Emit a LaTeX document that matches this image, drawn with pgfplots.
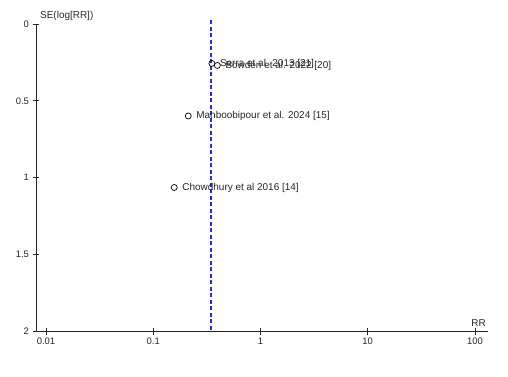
\documentclass[border=0pt]{standalone}
\usepackage{fontspec}
\setmainfont{Liberation Sans}
\usepackage{pgfplots}
\pgfplotsset{compat=1.18}
\definecolor{refblue}{RGB}{40,40,240}
\begin{document}
\begin{tikzpicture}
\path[use as bounding box] (0,0) rectangle (508bp,377bp);
\begin{axis}[
  at={(36bp,46bp)}, anchor=south west,
  scale only axis, width=452bp, height=307bp,
  xmode=log, xmin=0.008069, xmax=132.2,
  ymin=0, ymax=2, y dir=reverse,
  axis x line=bottom, axis y line=left,
  axis line style={-, black!85, line width=0.8pt},
  xtick={0.01,0.1,1,10,100}, xticklabels={0.01,0.1,1,10,100},
  ytick={0,0.5,1,1.5,2}, yticklabels={0,0.5,1,1.5,2},
  xminorticks=false,
  tick align=center, major tick length=7bp,
  tick style={black!85, line width=0.8pt},
  ticklabel style={font=\fontsize{9.5}{11}\selectfont, text=black!85},
  /pgf/number format/assume math mode=true,
  clip=false,
]
\addplot+[draw=refblue, line width=1.2pt, dash pattern=on 4bp off 2.5bp, mark=none] coordinates {(0.346,-0.025) (0.346,2)};
\addplot[only marks, mark=o, mark size=3bp, black, line width=0.7pt,
  nodes near coords, point meta=explicit symbolic,
  nodes near coords style={anchor=west, xshift=4.5bp, font=\fontsize{10}{12}\selectfont, text=black!85}]
  table[col sep=semicolon, x=x, y=y, meta=label] {
x;y;label
0.352;0.257;Serra et al. 2013 [21]
0.396;0.270;Bowden et al. 2022 [20]
0.212;0.599;Mahboobipour et al. 2024 [15]
0.157;1.065;Chowdhury et al 2016 [14]
};
\node[anchor=south west, font=\fontsize{10}{12}\selectfont, text=black!85, inner sep=0pt] at (rel axis cs:0,1) [xshift=4bp, yshift=3bp] {SE(log[RR])};
\node[anchor=south east, font=\fontsize{10}{12}\selectfont, text=black!85, inner sep=0pt] at (rel axis cs:1,0) [xshift=-2bp, yshift=4bp] {RR};
\end{axis}
\end{tikzpicture}
\end{document}
